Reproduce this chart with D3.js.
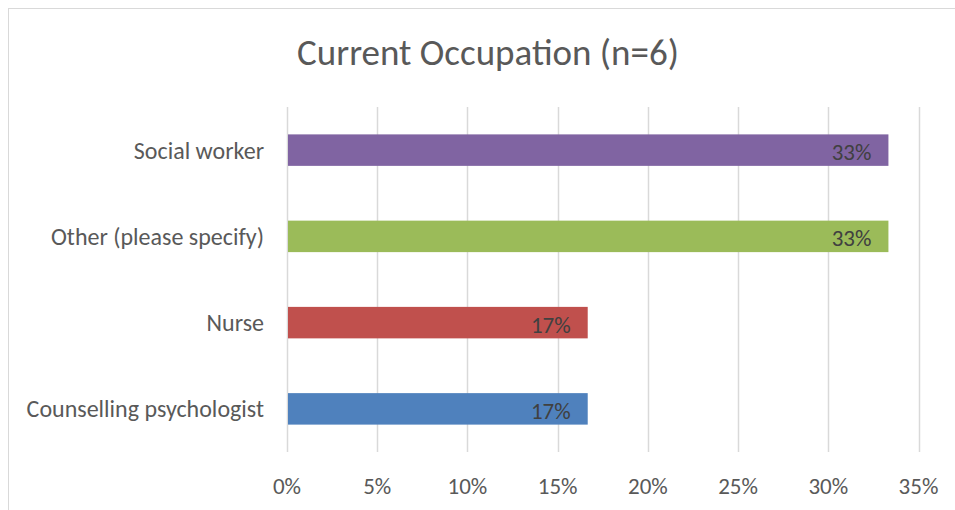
<!DOCTYPE html>
<html>
<head>
<meta charset="utf-8">
<script src="https://cdn.jsdelivr.net/npm/d3@7"></script>
<style>
  body { margin: 0; background: #fff; }
  svg { font-family: Calibri, Carlito, Lato, "Open Sans", sans-serif; }
</style>
</head>
<body>
<svg width="955" height="510"></svg>
<script>
var categories = ["Social worker", "Other (please specify)", "Nurse", "Counselling psychologist"];
var values = [2 / 6, 2 / 6, 1 / 6, 1 / 6];
var colors = ["#8064A2", "#9BBB59", "#C0504D", "#4F81BD"];
var ticks = [0, 0.05, 0.10, 0.15, 0.20, 0.25, 0.30, 0.35];

var svg = d3.select("svg");

// chart frame
svg.append("rect")
    .attr("x", 8.5).attr("y", 8.5)
    .attr("width", 960).attr("height", 520)
    .attr("fill", "#fff")
    .attr("stroke", "#d9d9d9");

svg.append("text")
    .attr("x", 488).attr("y", 65)
    .attr("text-anchor", "middle")
    .style("font-size", "37px")
    .style("fill", "#595959")
    .text("Current Occupation (n=6)");

var x = d3.scaleLinear().domain([0, 0.35]).range([287, 918.5]);
var y = d3.scaleBand().domain(categories).range([107, 452]).paddingInner(0.635).paddingOuter(0.3175);

// gridlines
svg.append("g").selectAll("line")
    .data(ticks)
    .enter().append("line")
      .attr("x1", function(d) { return Math.round(x(d)) + 0.5; })
      .attr("x2", function(d) { return Math.round(x(d)) + 0.5; })
      .attr("y1", 107).attr("y2", 452)
      .attr("stroke", "#d9d9d9")
      .attr("stroke-width", 1.5);

// bars
svg.append("g").selectAll("rect")
    .data(categories)
    .enter().append("rect")
      .attr("x", x(0) + 1)
      .attr("y", function(d) { return y(d); })
      .attr("width", function(d, i) { return x(values[i]) - x(0) - 1; })
      .attr("height", y.bandwidth())
      .attr("fill", function(d, i) { return colors[i]; });

// data labels
svg.append("g").selectAll("text")
    .data(categories)
    .enter().append("text")
      .attr("x", function(d, i) { return x(values[i]) - 17; })
      .attr("y", function(d) { return y(d) + y.bandwidth() / 2 + 2; })
      .attr("dy", "0.35em")
      .attr("text-anchor", "end")
      .style("font-size", "23px")
      .style("fill", "#404040")
      .text(function(d, i) { return d3.format(".0%")(values[i]); });

// category axis labels
svg.append("g").selectAll("text")
    .data(categories)
    .enter().append("text")
      .attr("x", 264)
      .attr("y", function(d) { return y(d) + y.bandwidth() / 2; })
      .attr("dy", "0.35em")
      .attr("text-anchor", "end")
      .style("font-size", "24px")
      .style("fill", "#595959")
      .text(function(d) { return d; });

// value axis tick labels
svg.append("g").selectAll("text")
    .data(ticks)
    .enter().append("text")
      .attr("x", function(d) { return x(d); })
      .attr("y", 486)
      .attr("dy", "0.35em")
      .attr("text-anchor", "middle")
      .style("font-size", "23px")
      .style("fill", "#595959")
      .text(function(d) { return d3.format(".0%")(d); });
</script>
</body>
</html>
